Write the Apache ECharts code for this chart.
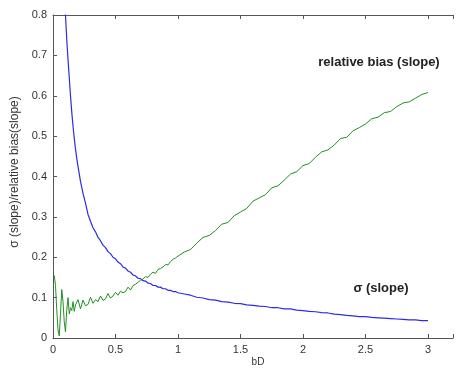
<!DOCTYPE html>
<html>
<head>
<meta charset="utf-8">
<script src="https://cdn.jsdelivr.net/npm/echarts@6/dist/echarts.min.js"></script>
<style>
  html, body { margin: 0; padding: 0; background: #fff; }
  #chart { width: 456px; height: 370px; }
</style>
</head>
<body>
<div id="chart"></div>
<script>
const bd = [
  0.01, 0.02, 0.03, 0.04, 0.05, 0.06, 0.07, 0.08, 0.09, 0.10,
  0.11, 0.12, 0.13, 0.14, 0.15, 0.16, 0.17, 0.18, 0.19, 0.20,
  0.22, 0.24, 0.26, 0.28, 0.30, 0.32, 0.34, 0.36, 0.38, 0.40,
  0.42, 0.44, 0.46, 0.48, 0.50, 0.52, 0.54, 0.56, 0.58, 0.60,
  0.62, 0.64, 0.66, 0.68, 0.70, 0.72, 0.74, 0.76, 0.78, 0.80,
  0.82, 0.84, 0.86, 0.88, 0.90, 0.92, 0.94, 0.96, 0.98, 1.00,
  1.05, 1.10, 1.15, 1.20, 1.25, 1.30, 1.35, 1.40, 1.45, 1.50,
  1.55, 1.60, 1.65, 1.70, 1.75, 1.80, 1.85, 1.90, 1.95, 2.00,
  2.05, 2.10, 2.15, 2.20, 2.25, 2.30, 2.35, 2.40, 2.45, 2.50,
  2.55, 2.60, 2.65, 2.70, 2.75, 2.80, 2.85, 2.90, 2.95, 3.00
];

// sigma (slope)
const sigmaSlope = [
  6.0, 3.4, 2.4, 1.85, 1.5, 1.27, 1.1, 0.98, 0.88, 0.80,
  0.74, 0.69, 0.645, 0.60, 0.56, 0.525, 0.495, 0.468, 0.445, 0.425,
  0.388, 0.358, 0.334, 0.306, 0.289, 0.273, 0.263, 0.249, 0.241, 0.230,
  0.224, 0.214, 0.209, 0.200, 0.196, 0.188, 0.184, 0.176, 0.173, 0.166,
  0.163, 0.156, 0.154, 0.148, 0.147, 0.142, 0.141, 0.136, 0.135, 0.130,
  0.130, 0.126, 0.126, 0.122, 0.122, 0.118, 0.118, 0.115, 0.115, 0.112,
  0.109, 0.106, 0.101, 0.099, 0.095, 0.094, 0.090, 0.089, 0.086, 0.085,
  0.082, 0.081, 0.079, 0.078, 0.075, 0.075, 0.072, 0.072, 0.069, 0.068,
  0.066, 0.065, 0.063, 0.062, 0.059, 0.058, 0.056, 0.055, 0.053, 0.053,
  0.051, 0.050, 0.049, 0.048, 0.047, 0.046, 0.045, 0.045, 0.043, 0.043
];

// relative bias (slope)
const relBias = [
  0.155, 0.13, 0.07, 0.02, 0.005, 0.06, 0.12, 0.09, 0.04, 0.015,
  0.07, 0.1, 0.06, 0.075, 0.068, 0.09, 0.066, 0.082, 0.078, 0.095,
  0.072, 0.094, 0.080, 0.083, 0.101, 0.086, 0.095, 0.090, 0.104, 0.093,
  0.097, 0.110, 0.099, 0.104, 0.113, 0.106, 0.116, 0.112, 0.115, 0.126,
  0.119, 0.130, 0.133, 0.138, 0.143, 0.146, 0.152, 0.150, 0.158, 0.163,
  0.160, 0.170, 0.172, 0.176, 0.182, 0.181, 0.189, 0.195, 0.198, 0.203,
  0.213, 0.219, 0.235, 0.249, 0.254, 0.266, 0.282, 0.286, 0.303, 0.312,
  0.321, 0.339, 0.347, 0.355, 0.372, 0.377, 0.391, 0.406, 0.412, 0.427,
  0.432, 0.448, 0.461, 0.466, 0.478, 0.494, 0.497, 0.513, 0.521, 0.530,
  0.543, 0.547, 0.558, 0.561, 0.573, 0.582, 0.585, 0.594, 0.603, 0.608
];

const axisColor = '#555';
const labelColor = '#333';
const font = 'Liberation Sans, Arial, sans-serif';

const chart = echarts.init(document.getElementById('chart'));
chart.setOption({
  animation: false,
  grid: { left: 53, top: 15, width: 411, height: 323 },
  xAxis: [
    {
      type: 'value', min: 0, max: 3.2, interval: 0.5,
      axisLine: { lineStyle: { color: axisColor } },
      axisTick: { inside: true, length: 4, lineStyle: { color: axisColor } },
      axisLabel: {
        color: labelColor, fontSize: 11, fontFamily: font, margin: 6,
        formatter: v => (Math.abs(v * 2 - Math.round(v * 2)) < 1e-6 ? String(v) : '')
      },
      splitLine: { show: false }
    },
    {
      type: 'value', position: 'top', min: 0, max: 3.2, interval: 0.5,
      axisLine: { show: true, lineStyle: { color: axisColor } },
      axisTick: { inside: true, length: 4, lineStyle: { color: axisColor } },
      axisLabel: { show: false },
      splitLine: { show: false }
    }
  ],
  yAxis: {
    type: 'value', min: 0, max: 0.8, interval: 0.1,
    axisLine: { show: true, lineStyle: { color: axisColor } },
    axisTick: { show: true, inside: true, length: 4, lineStyle: { color: axisColor } },
    axisLabel: { color: labelColor, fontSize: 11, fontFamily: font, margin: 6 },
    splitLine: { show: false }
  },
  series: [
    {
      name: 'sigma (slope)', type: 'line', xAxisIndex: 0,
      data: bd.map((x, i) => [x, sigmaSlope[i]]),
      showSymbol: false, clip: true,
      lineStyle: { color: '#2b2bea', width: 1.2 }
    },
    {
      name: 'relative bias (slope)', type: 'line', xAxisIndex: 0,
      data: bd.map((x, i) => [x, relBias[i]]),
      showSymbol: false, clip: true,
      lineStyle: { color: '#1f9020', width: 1 }
    }
  ],
  graphic: [
    {
      type: 'text', x: 379, y: 62,
      style: { text: 'relative bias (slope)', font: 'bold 13px ' + font, fill: '#222', align: 'center', verticalAlign: 'middle' }
    },
    {
      type: 'text', x: 381, y: 288,
      style: { text: 'σ (slope)', font: 'bold 13px ' + font, fill: '#222', align: 'center', verticalAlign: 'middle' }
    },
    {
      type: 'text', x: 258, y: 362,
      style: { text: 'bD', font: '10px ' + font, fill: labelColor, align: 'center', verticalAlign: 'middle' }
    },
    {
      type: 'text', x: 15, y: 172, rotation: Math.PI / 2,
      style: { text: 'σ (slope)/relative bias(slope)', font: '12px ' + font, fill: labelColor, align: 'center', verticalAlign: 'middle' }
    }
  ]
});
</script>
</body>
</html>
